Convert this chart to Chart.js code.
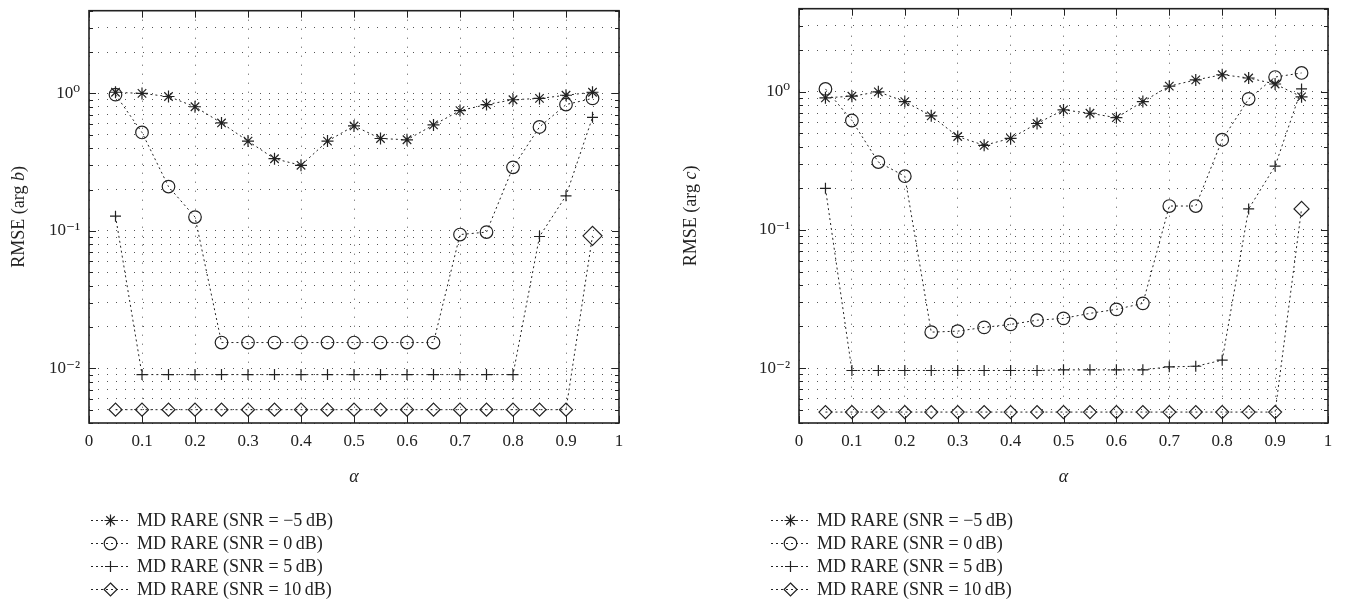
<!DOCTYPE html>
<html>
<head>
<meta charset="utf-8">
<script src="https://cdn.jsdelivr.net/npm/chart.js@4.4.1/dist/chart.umd.min.js"></script>
<style>
  body { margin: 0; background: #fff; width: 1345px; height: 613px; overflow: hidden; position: relative;
         font-family: "Liberation Serif", "DejaVu Serif", serif; color: #222; }
  .panel { position: absolute; top: 0; height: 613px; }
  .panel canvas { display: block; }
  .legend { position: absolute; top: 509px; font-size: 18px; }
  .row { display: flex; align-items: center; height: 23px; white-space: nowrap; }
  .row canvas { margin-right: 3px; }
</style>
</head>
<body>
<div class="panel" style="left:0;width:672px">
  <canvas id="chartB" width="672" height="500"></canvas>
  <div class="legend" id="legendB" style="left:90px"></div>
</div>
<div class="panel" style="left:672px;width:673px">
  <canvas id="chartC" width="673" height="500"></canvas>
  <div class="legend" id="legendC" style="left:98px"></div>
</div>
<script>
// alpha values on the x axis
const alpha = [0.05, 0.1, 0.15, 0.2, 0.25, 0.3, 0.35, 0.4, 0.45, 0.5, 0.55, 0.6, 0.65, 0.7, 0.75, 0.8, 0.85, 0.9, 0.95];

// RMSE (arg b), left panel
const rmseB_m5 = [1.02, 1.0, 0.95, 0.80, 0.61, 0.45, 0.335, 0.30, 0.45, 0.58, 0.47, 0.46, 0.59, 0.75, 0.83, 0.90, 0.92, 0.97, 1.02];
const rmseB_0  = [0.98, 0.52, 0.21, 0.126, 0.0154, 0.0154, 0.0154, 0.0154, 0.0154, 0.0154, 0.0154, 0.0154, 0.0154, 0.094, 0.098, 0.29, 0.57, 0.83, 0.92];
const rmseB_5  = [0.128, 0.009, 0.009, 0.009, 0.009, 0.009, 0.009, 0.009, 0.009, 0.009, 0.009, 0.009, 0.009, 0.009, 0.009, 0.009, 0.091, 0.18, 0.67];
const rmseB_10 = [0.005, 0.005, 0.005, 0.005, 0.005, 0.005, 0.005, 0.005, 0.005, 0.005, 0.005, 0.005, 0.005, 0.005, 0.005, 0.005, 0.005, 0.005, 0.092];

// RMSE (arg c), right panel
const rmseC_m5 = [0.905, 0.93, 1.0, 0.85, 0.67, 0.475, 0.41, 0.46, 0.59, 0.74, 0.70, 0.65, 0.85, 1.10, 1.22, 1.33, 1.26, 1.14, 0.92];
const rmseC_0  = [1.05, 0.62, 0.31, 0.245, 0.0182, 0.0185, 0.0197, 0.0207, 0.0222, 0.0229, 0.0249, 0.0266, 0.0294, 0.149, 0.149, 0.45, 0.89, 1.28, 1.37];
const rmseC_5  = [0.20, 0.0096, 0.0096, 0.0096, 0.0096, 0.0096, 0.0096, 0.0096, 0.0096, 0.0097, 0.0097, 0.0097, 0.0097, 0.0102, 0.0103, 0.0114, 0.142, 0.29, 1.05];
const rmseC_10 = [0.0048, 0.0048, 0.0048, 0.0048, 0.0048, 0.0048, 0.0048, 0.0048, 0.0048, 0.0048, 0.0048, 0.0048, 0.0048, 0.0048, 0.0048, 0.0048, 0.0048, 0.0048, 0.142];

const seriesLabels = [
  'MD RARE (SNR = \u22125\u2009dB)',
  'MD RARE (SNR = 0\u2009dB)',
  'MD RARE (SNR = 5\u2009dB)',
  'MD RARE (SNR = 10\u2009dB)'
];

// ticks
const xTickValues = [0, 0.1, 0.2, 0.3, 0.4, 0.5, 0.6, 0.7, 0.8, 0.9, 1];
const xTickLabels = ['0', '0.1', '0.2', '0.3', '0.4', '0.5', '0.6', '0.7', '0.8', '0.9', '1'];
const yGridValues = [0.004, 0.005, 0.006, 0.007, 0.008, 0.009,
                     0.01, 0.02, 0.03, 0.04, 0.05, 0.06, 0.07, 0.08, 0.09,
                     0.1, 0.2, 0.3, 0.4, 0.5, 0.6, 0.7, 0.8, 0.9,
                     1, 2, 3, 4];
const yMajorValues = [0.01, 0.1, 1];
const yMajorLabels = ['10\u207B\u00B2', '10\u207B\u00B9', '10\u2070'];

const INK = '#222';
const SERIF = '"Liberation Serif", "DejaVu Serif", serif';
const markers = [
  { style: 'star', r: 6 },
  { style: 'circle', r: 6.3 },
  { style: 'cross', r: 5.5 },
  { style: 'rectRot', r: 6.5 }
];

function majorIndex(v) {
  return yMajorValues.findIndex(m => Math.abs(m - v) < m * 1e-6);
}

// box, inward tick marks and axis titles (MATLAB look)
const framePlugin = {
  id: 'frame',
  afterDraw(chart, args, opts) {
    const { ctx, chartArea: a, scales: { x, y } } = chart;
    ctx.save();
    ctx.strokeStyle = INK;
    ctx.lineWidth = 1;
    ctx.beginPath();
    xTickValues.forEach(v => {
      const px = Math.round(x.getPixelForValue(v)) + 0.5;
      ctx.moveTo(px, a.bottom); ctx.lineTo(px, a.bottom - 7);
      ctx.moveTo(px, a.top); ctx.lineTo(px, a.top + 7);
    });
    yGridValues.forEach(v => {
      const py = Math.round(y.getPixelForValue(v)) + 0.5;
      const len = majorIndex(v) >= 0 ? 7 : 4;
      ctx.moveTo(a.left, py); ctx.lineTo(a.left + len, py);
      ctx.moveTo(a.right, py); ctx.lineTo(a.right - len, py);
    });
    ctx.stroke();
    ctx.lineWidth = 1.6;
    ctx.strokeRect(a.left, a.top, a.right - a.left, a.bottom - a.top);

    ctx.fillStyle = INK;
    ctx.textBaseline = 'middle';
    ctx.textAlign = 'center';
    ctx.font = 'italic 18px ' + SERIF;
    ctx.fillText('\u03B1', (a.left + a.right) / 2, 477);

    // y title with italic variable
    const parts = [['RMSE (arg ', '18px '], [opts.yVar, 'italic 18px '], [')', '18px ']];
    let total = 0;
    parts.forEach(p => { ctx.font = p[1] + SERIF; total += ctx.measureText(p[0]).width; });
    ctx.translate(a.left - opts.titleGap, (a.top + a.bottom) / 2);
    ctx.rotate(-Math.PI / 2);
    ctx.textAlign = 'left';
    let cx = -total / 2;
    parts.forEach(p => {
      ctx.font = p[1] + SERIF;
      ctx.fillText(p[0], cx, 0);
      cx += ctx.measureText(p[0]).width;
    });
    ctx.restore();
  }
};

function makeChart(canvasId, series, yVar, axisWidth, padRight, bigDiamond) {
  const datasets = series.map((vals, k) => ({
    label: seriesLabels[k],
    data: alpha.map((a, i) => ({ x: a, y: vals[i] })),
    borderColor: INK,
    borderWidth: 1,
    borderDash: [2, 3],
    fill: false,
    tension: 0,
    pointStyle: markers[k].style,
    pointRadius: k === 3 ? (c => c.dataIndex === alpha.length - 1 ? bigDiamond : markers[k].r) : markers[k].r,
    pointBorderWidth: 1.2,
    pointBorderColor: INK,
    pointBackgroundColor: 'rgba(0,0,0,0)'
  }));

  return new Chart(document.getElementById(canvasId), {
    type: 'line',
    data: { datasets: datasets },
    plugins: [framePlugin],
    options: {
      responsive: false,
      animation: false,
      devicePixelRatio: 1,
      // chart area: top 6, bottom 423 (the layout adds ~5.5px above the padding)
      layout: { padding: { left: 0, right: padRight, top: 0.5, bottom: 0 } },
      plugins: {
        legend: { display: false },
        tooltip: { enabled: false },
        frame: { yVar: yVar, titleGap: axisWidth - 19 }
      },
      scales: {
        x: {
          type: 'linear',
          min: 0,
          max: 1,
          afterBuildTicks: s => { s.ticks = xTickValues.map(v => ({ value: v })); },
          afterFit: s => { s.height = 77; s.paddingLeft = 0; s.paddingRight = 0; },
          ticks: {
            color: INK,
            padding: 8,
            maxRotation: 0,
            autoSkip: false,
            font: { family: SERIF, size: 17 },
            callback: (v, i) => xTickLabels[i]
          },
          grid: { color: '#555', lineWidth: 1, drawTicks: false },
          border: { display: false, dash: [1, 8] }
        },
        y: {
          type: 'logarithmic',
          min: 0.004,
          max: 4,
          afterBuildTicks: s => { s.ticks = yGridValues.map(v => ({ value: v })); },
          afterFit: s => { s.width = axisWidth; s.paddingTop = 0; s.paddingBottom = 0; },
          ticks: {
            color: INK,
            padding: 9,
            autoSkip: false,
            font: { family: SERIF, size: 17 },
            callback: v => { const i = majorIndex(v); return i >= 0 ? yMajorLabels[i] : ''; }
          },
          grid: { color: '#555', lineWidth: 1, drawTicks: false },
          border: { display: false, dash: [1, 8] }
        }
      }
    }
  });
}

function drawMarker(ctx, style, x, y, r) {
  ctx.beginPath();
  if (style === 'circle') {
    ctx.arc(x, y, r, 0, Math.PI * 2);
  } else if (style === 'cross') {
    ctx.moveTo(x - r, y); ctx.lineTo(x + r, y);
    ctx.moveTo(x, y - r); ctx.lineTo(x, y + r);
  } else if (style === 'rectRot') {
    ctx.moveTo(x, y - r); ctx.lineTo(x + r, y); ctx.lineTo(x, y + r); ctx.lineTo(x - r, y); ctx.closePath();
  } else {
    for (let k = 0; k < 4; k++) {
      const t = k * Math.PI / 4;
      ctx.moveTo(x - r * Math.cos(t), y - r * Math.sin(t));
      ctx.lineTo(x + r * Math.cos(t), y + r * Math.sin(t));
    }
  }
  ctx.stroke();
}

function buildLegend(id) {
  const box = document.getElementById(id);
  seriesLabels.forEach((label, k) => {
    const row = document.createElement('div');
    row.className = 'row';
    const c = document.createElement('canvas');
    c.width = 44; c.height = 23;
    const ctx = c.getContext('2d');
    ctx.strokeStyle = INK;
    ctx.lineWidth = 1;
    ctx.setLineDash([2, 3]);
    ctx.beginPath(); ctx.moveTo(1, 11.5); ctx.lineTo(40, 11.5); ctx.stroke();
    ctx.setLineDash([]);
    ctx.lineWidth = 1.2;
    drawMarker(ctx, markers[k].style, 20.5, 11.5, markers[k].r);
    const span = document.createElement('span');
    span.textContent = label;
    row.appendChild(c);
    row.appendChild(span);
    box.appendChild(row);
  });
}

makeChart('chartB', [rmseB_m5, rmseB_0, rmseB_5, rmseB_10], 'b', 89, 53, 9.5);
makeChart('chartC', [rmseC_m5, rmseC_0, rmseC_5, rmseC_10], 'c', 127, 17, 7.5);
buildLegend('legendB');
buildLegend('legendC');
</script>
</body>
</html>
